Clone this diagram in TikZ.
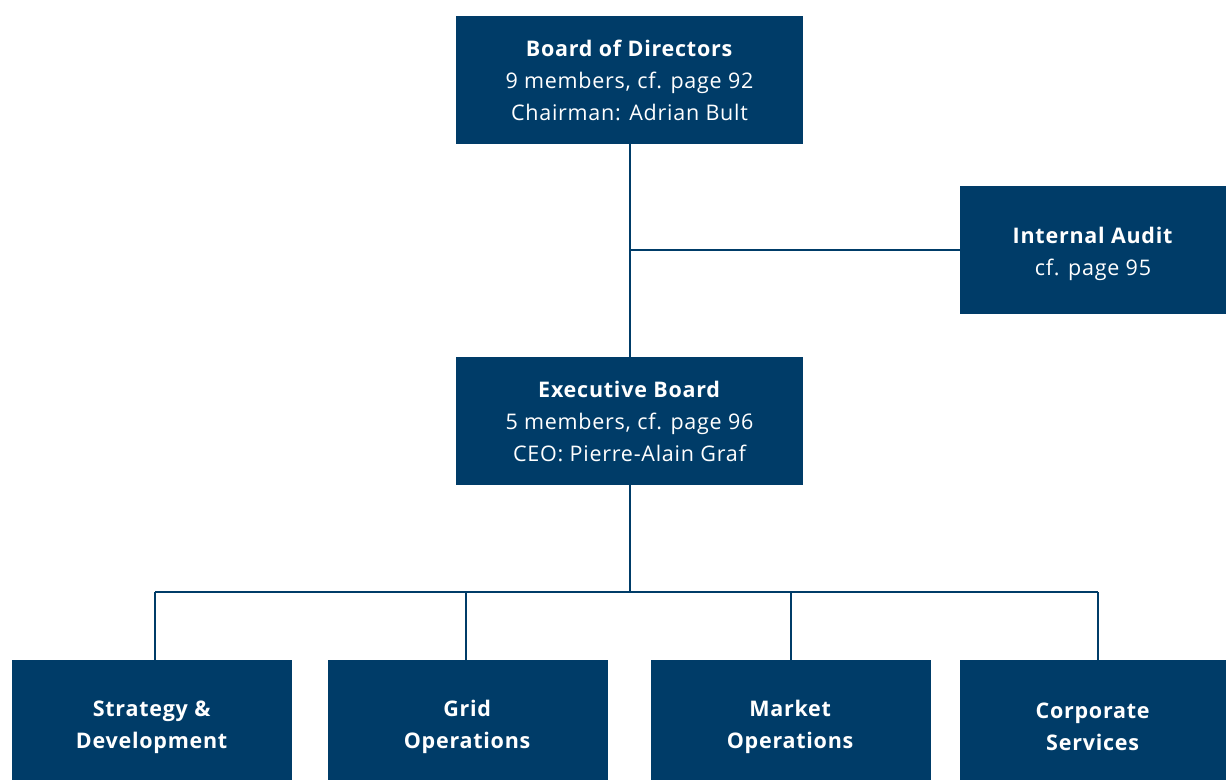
\documentclass[tikz,border=0pt]{standalone}
\usepackage{fontspec}
\setmainfont{Open Sans}[LetterSpace=3.5]
\definecolor{navy}{HTML}{003C68}
\begin{document}
\begin{tikzpicture}[x=1pt,y=-1pt,
  box/.style={fill=navy,text=white,align=center,inner sep=0pt,
    font=\fontsize{21.5}{32}\selectfont},
  boxtxt/.style={label={[text=white,align=center,inner sep=0pt,
    font=\fontsize{21.5}{32}\selectfont,yshift=#1]center:{\boxtext}}},
  conn/.style={draw=navy,line width=2.2pt}]
\useasboundingbox (0,0) rectangle (1226,779);
\node[box,minimum width=347,minimum height=128] (bod) at (629.5,80)
  {\textbf{Board of Directors}\\9 members, cf. page 92\\Chairman: Adrian Bult};
\def\boxtext{\textbf{Internal Audit}\\cf. page 95}
\node[box,minimum width=266,minimum height=128,boxtxt=-4] (ia) at (1093,250) {};
\node[box,minimum width=347,minimum height=128] (eb) at (629.5,421)
  {\textbf{Executive Board}\\5 members, cf. page 96\\CEO: Pierre-Alain Graf};
\def\boxtext{\textbf{Strategy \&}\\\textbf{Development}}
\node[box,minimum width=280,minimum height=128,boxtxt=-3] (sd) at (152,724) {};
\def\boxtext{\textbf{Grid}\\\textbf{Operations}}
\node[box,minimum width=280,minimum height=128,boxtxt=-3] (go) at (467.5,724) {};
\def\boxtext{\textbf{Market}\\\textbf{Operations}}
\node[box,minimum width=280,minimum height=128,boxtxt=-3] (mo) at (790.5,724) {};
\def\boxtext{\textbf{Corporate}\\\textbf{Services}}
\node[box,minimum width=266,minimum height=128,boxtxt=-3] (cs) at (1093,724) {};
\coordinate (j1) at (630,250);
\coordinate (j2) at (630,592);
\draw[conn] (bod.south -| j1) -- (eb.north -| j1);
\draw[conn] (j1) -- (ia.west);
\draw[conn] (eb.south -| j2) -- (j2);
\draw[conn] (155,592) -- (1098,592);
\draw[conn] (155,592) -- (sd.north -| 155,0);
\draw[conn] (466,592) -- (go.north -| 466,0);
\draw[conn] (791,592) -- (mo.north -| 791,0);
\draw[conn] (1098,592) -- (cs.north -| 1098,0);
\end{tikzpicture}
\end{document}
